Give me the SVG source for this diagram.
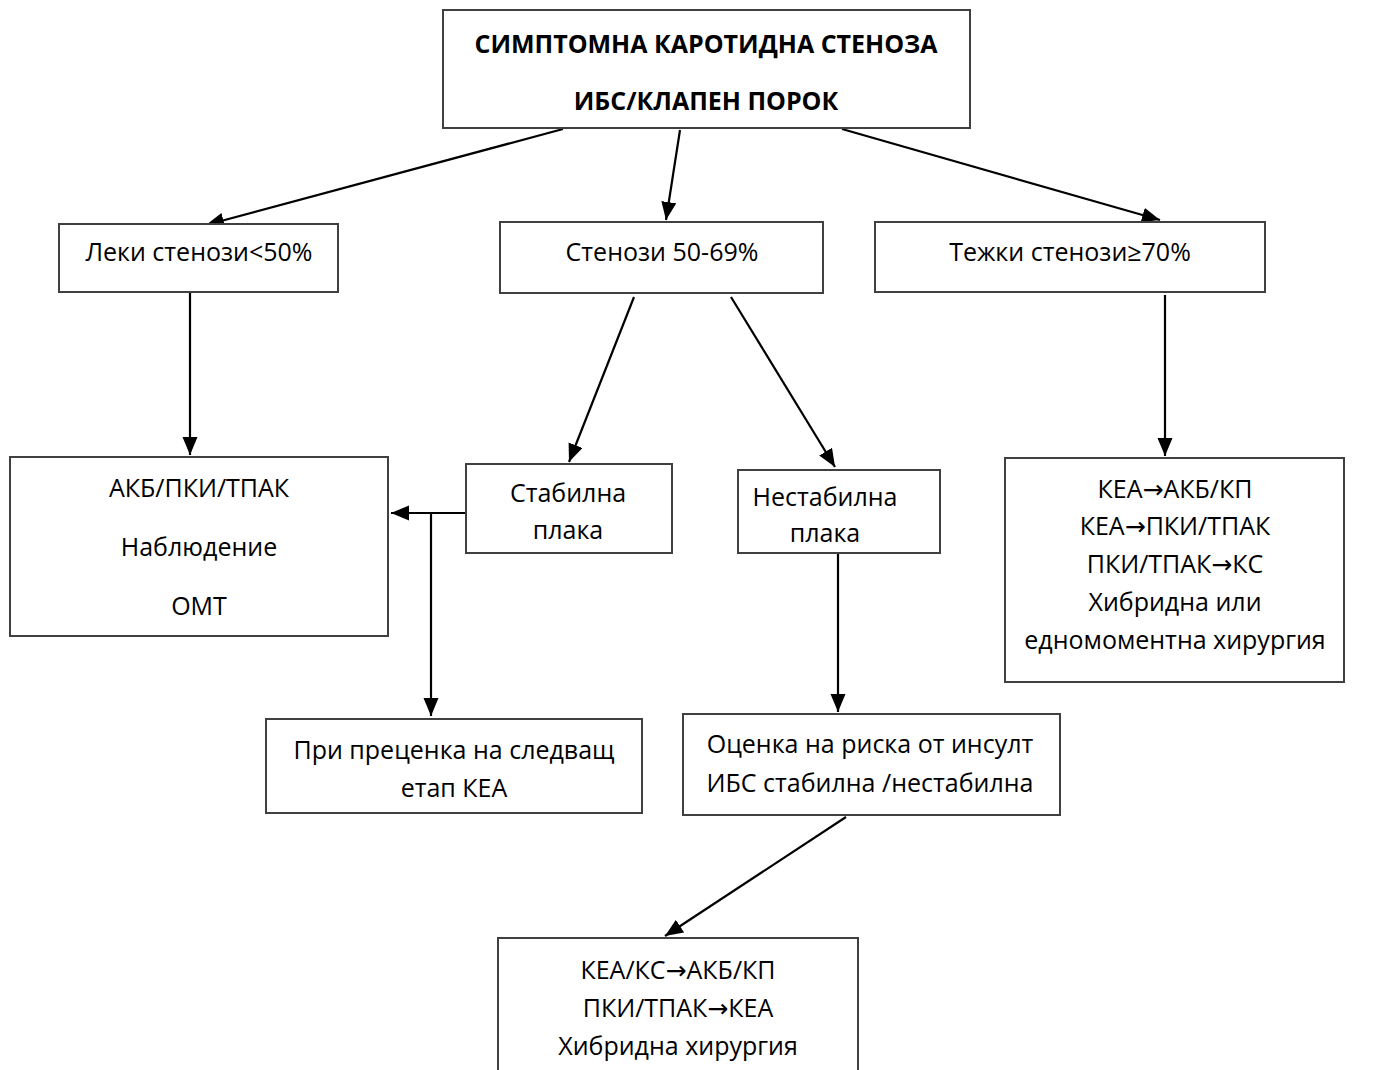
<svg xmlns="http://www.w3.org/2000/svg" width="1374" height="1070" viewBox="0 0 1374 1070">
<style>
.box{fill:#fff;stroke:#404040;stroke-width:2}
.t{font-family:"Open Sans","Noto Sans","Liberation Sans",sans-serif;font-size:25px;fill:#000;text-anchor:middle}
.b{font-weight:bold;font-size:25px}
.ar{font-family:"DejaVu Sans",sans-serif}
.c{stroke:#000;stroke-width:2.2;fill:none}
</style>
<defs>
<marker id="ah" markerUnits="userSpaceOnUse" markerWidth="20" markerHeight="16" refX="18" refY="7.5" orient="auto">
<path d="M0,0 L18,7.5 L0,15 Z" fill="#000"/>
</marker>
</defs>
<rect width="1374" height="1070" fill="#fff"/>
<g id="connectors">
<line class="c" x1="563" y1="129" x2="206" y2="225" marker-end="url(#ah)"/>
<line class="c" x1="680" y1="130" x2="666" y2="220" marker-end="url(#ah)"/>
<line class="c" x1="842" y1="129" x2="1160" y2="220" marker-end="url(#ah)"/>
<line class="c" x1="190" y1="293" x2="190" y2="455" marker-end="url(#ah)"/>
<line class="c" x1="634" y1="297" x2="569" y2="462" marker-end="url(#ah)"/>
<line class="c" x1="731" y1="297" x2="835" y2="467" marker-end="url(#ah)"/>
<line class="c" x1="1165" y1="295" x2="1165" y2="456" marker-end="url(#ah)"/>
<line class="c" x1="467" y1="513" x2="391" y2="513" marker-end="url(#ah)"/>
<line class="c" x1="431" y1="513" x2="431" y2="716" marker-end="url(#ah)"/>
<line class="c" x1="838" y1="553" x2="838" y2="712" marker-end="url(#ah)"/>
<line class="c" x1="846" y1="817" x2="665" y2="936" marker-end="url(#ah)"/>
</g>
<g id="n-top">
<rect class="box" x="443" y="10" width="527" height="118"/>
<text class="t b" x="706" y="53">СИМПТОМНА КАРОТИДНА СТЕНОЗА</text>
<text class="t b" x="706" y="110">ИБС/КЛАПЕН ПОРОК</text>
</g>
<g id="n-mild">
<rect class="box" x="59" y="224" width="279" height="68"/>
<text class="t" x="199" y="261">Леки стенози&lt;50%</text>
</g>
<g id="n-mid">
<rect class="box" x="500" y="222" width="323" height="71"/>
<text class="t" x="662" y="261">Стенози 50-69%</text>
</g>
<g id="n-severe">
<rect class="box" x="875" y="222" width="390" height="70"/>
<text class="t" x="1070" y="261">Тежки стенози≥70%</text>
</g>
<g id="n-akb">
<rect class="box" x="10" y="457" width="378" height="179"/>
<text class="t" x="199" y="497">АКБ/ПКИ/ТПАК</text>
<text class="t" x="199" y="556">Наблюдение</text>
<text class="t" x="199" y="615">ОМТ</text>
</g>
<g id="n-stable">
<rect class="box" x="466" y="464" width="206" height="89"/>
<text class="t" x="568" y="502">Стабилна</text>
<text class="t" x="568" y="539">плака</text>
</g>
<g id="n-unstable">
<rect class="box" x="738" y="470" width="202" height="83"/>
<text class="t" x="825" y="506">Нестабилна</text>
<text class="t" x="825" y="542">плака</text>
</g>
<g id="n-right">
<rect class="box" x="1005" y="458" width="339" height="224"/>
<text class="t" x="1175" y="498">КЕА<tspan class="ar">→</tspan>АКБ/КП</text>
<text class="t" x="1175" y="535">КЕА<tspan class="ar">→</tspan>ПКИ/ТПАК</text>
<text class="t" x="1175" y="573">ПКИ/ТПАК<tspan class="ar">→</tspan>КС</text>
<text class="t" x="1175" y="611">Хибридна или</text>
<text class="t" x="1175" y="649">едномоментна хирургия</text>
</g>
<g id="n-next">
<rect class="box" x="266" y="719" width="376" height="94"/>
<text class="t" x="454" y="759">При преценка на следващ</text>
<text class="t" x="454" y="797">етап КЕА</text>
</g>
<g id="n-risk">
<rect class="box" x="683" y="714" width="377" height="101"/>
<text class="t" x="870" y="753">Оценка на риска от инсулт</text>
<text class="t" x="870" y="792">ИБС стабилна /нестабилна</text>
</g>
<g id="n-bottom">
<rect class="box" x="498" y="938" width="360" height="150"/>
<text class="t" x="678" y="979">КЕА/КС<tspan class="ar">→</tspan>АКБ/КП</text>
<text class="t" x="678" y="1017">ПКИ/ТПАК<tspan class="ar">→</tspan>КЕА</text>
<text class="t" x="678" y="1055">Хибридна хирургия</text>
</g>
</svg>
